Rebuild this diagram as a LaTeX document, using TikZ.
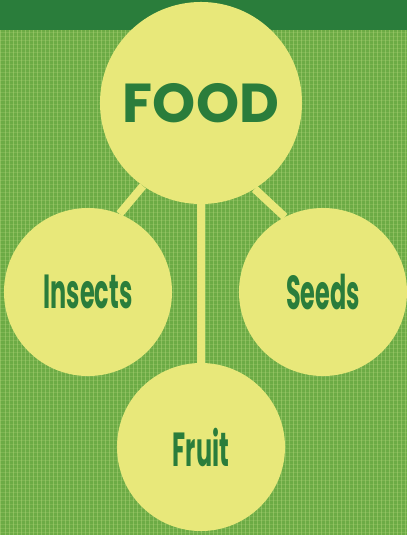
\documentclass[tikz,border=0pt]{standalone}
\usepackage{fontspec}
\setmainfont{Poppins}
\newfontfamily\labelfont[FakeStretch=0.5]{Poppins}
\usetikzlibrary{backgrounds}
\definecolor{LeafGreen}{HTML}{2A7D3B}
\definecolor{CanvasGreen}{HTML}{6CAB45}
\definecolor{ThreadGreen}{HTML}{B2D67A}
\definecolor{PaleYellow}{HTML}{E8E87A}
\tikzset{
  topic/.style={circle,fill=PaleYellow,minimum size=4.2cm,inner sep=0pt,
    font=\labelfont\bfseries\fontsize{34}{38}\selectfont,text=LeafGreen},
  maintopic/.style={circle,fill=PaleYellow,minimum size=5.05cm,inner sep=0pt,
    font=\bfseries\fontsize{39}{44}\selectfont,text=LeafGreen},
  stem/.style={line width=0.2cm,draw=PaleYellow},
  thread/.style={line width=0.025cm,draw=ThreadGreen,opacity=0.45},
}

\begin{document}
\begin{tikzpicture}[x=0.025cm,y=-0.025cm]
  \useasboundingbox (0,0) rectangle (407,535);
  \node[maintopic] (food) at (201,103) {FOOD};
  \node[topic] (insects) at (88,292) {Insects};
  \node[topic] (seeds) at (323,292) {Seeds};
  \node[topic] (fruit) at (201,447) {Fruit};
  \begin{pgfonlayer}{background}
    % canvas and top band
    \fill[CanvasGreen] (0,30) rectangle (407,535);
    \foreach \x in {1,5,...,405} \draw[thread] (\x,30) -- (\x,535);
    \foreach \y in {32,36,...,533} \draw[thread,opacity=0.25] (0,\y) -- (407,\y);
    \fill[LeafGreen] (0,0) rectangle (407,30);
    % stems
    \draw[stem] (food.-125) -- (insects.68);
    \draw[stem] (food.-58) -- (seeds.117);
    \draw[stem] (food.south) -- (fruit.north);
  \end{pgfonlayer}
\end{tikzpicture}
\end{document}
